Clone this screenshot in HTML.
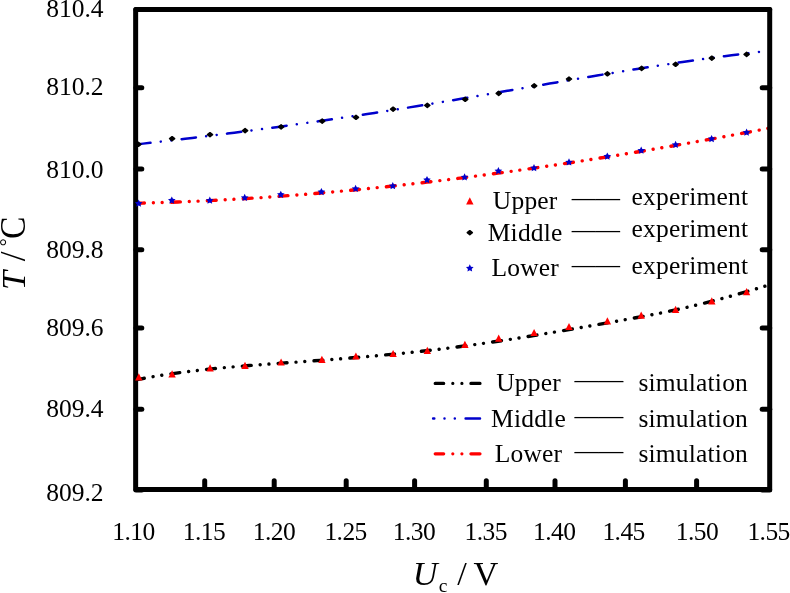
<!DOCTYPE html>
<html lang="en"><head><meta charset="utf-8"><title>T vs Uc</title>
<style>
html,body{margin:0;padding:0;background:#fff;}
body{width:790px;height:593px;overflow:hidden;}
svg{display:block;}
text{font-family:"Liberation Serif","Times New Roman",serif;fill:#000;}
.tk{font-size:25.5px;}
.lg{font-size:25.5px;letter-spacing:0.2px;}
.xk{font-size:25.5px;letter-spacing:-0.55px;}
.ti{font-size:35.5px;}
</style></head><body>
<svg width="790" height="593" viewBox="0 0 790 593">
<rect x="0" y="0" width="790" height="593" fill="#fff"/>

<g stroke="#000" stroke-width="5" stroke-linecap="round" fill="none">
<line x1="136" y1="9.5" x2="141.8" y2="9.5"/>
<line x1="769.7" y1="9.5" x2="762.2" y2="9.5"/>
<line x1="136" y1="87.85" x2="141.8" y2="87.85"/>
<line x1="769.7" y1="87.85" x2="762.2" y2="87.85"/>
<line x1="136" y1="169" x2="141.8" y2="169"/>
<line x1="769.7" y1="169" x2="762.2" y2="169"/>
<line x1="136" y1="249.7" x2="141.8" y2="249.7"/>
<line x1="769.7" y1="249.7" x2="762.2" y2="249.7"/>
<line x1="136" y1="328" x2="141.8" y2="328"/>
<line x1="769.7" y1="328" x2="762.2" y2="328"/>
<line x1="136" y1="409.3" x2="141.8" y2="409.3"/>
<line x1="769.7" y1="409.3" x2="762.2" y2="409.3"/>
<line x1="136" y1="490" x2="141.8" y2="490"/>
<line x1="769.7" y1="490" x2="762.2" y2="490"/>
<line x1="204.7" y1="489.5" x2="204.7" y2="480.7"/>
<line x1="274.2" y1="489.5" x2="274.2" y2="480.7"/>
<line x1="346.2" y1="489.5" x2="346.2" y2="480.7"/>
<line x1="414.6" y1="489.5" x2="414.6" y2="480.7"/>
<line x1="486.3" y1="489.5" x2="486.3" y2="480.7"/>
<line x1="555" y1="489.5" x2="555" y2="480.7"/>
<line x1="625.4" y1="489.5" x2="625.4" y2="480.7"/>
<line x1="696.6" y1="489.5" x2="696.6" y2="480.7"/>
</g>
<path d="M136.2,144.39 L143.2,143.62 L150.2,142.83 L157.2,142.04 L164.2,141.23 L171.2,140.42 L178.2,139.60 L185.2,138.77 L192.2,137.93 L199.2,137.09 L206.2,136.23 L213.2,135.36 L220.3,134.49 L227.3,133.61 L234.3,132.71 L241.3,131.81 L248.3,130.90 L255.3,129.98 L262.3,129.05 L269.3,128.12 L276.3,127.17 L283.3,126.21 L290.3,125.25 L297.3,124.27 L304.3,123.29 L311.3,122.30 L318.3,121.29 L325.3,120.28 L332.3,119.26 L339.3,118.23 L346.3,117.19 L353.3,116.14 L360.3,115.08 L367.3,114.01 L374.4,112.93 L381.4,111.84 L388.4,110.74 L395.4,109.64 L402.4,108.52 L409.4,107.39 L416.4,106.26 L423.4,105.11 L430.4,103.95 L437.4,102.79 L444.4,101.62 L451.4,100.44 L458.4,99.26 L465.4,98.07 L472.4,96.87 L479.4,95.68 L486.4,94.47 L493.4,93.27 L500.4,92.06 L507.4,90.85 L514.4,89.64 L521.4,88.43 L528.5,87.22 L535.5,86.01 L542.5,84.80 L549.5,83.60 L556.5,82.40 L563.5,81.20 L570.5,80.00 L577.5,78.81 L584.5,77.63 L591.5,76.45 L598.5,75.28 L605.5,74.12 L612.5,72.97 L619.5,71.82 L626.5,70.69 L633.5,69.56 L640.5,68.45 L647.5,67.34 L654.5,66.25 L661.5,65.18 L668.5,64.11 L675.5,63.06 L682.6,62.03 L689.6,61.01 L696.6,60.01 L703.6,59.02 L710.6,58.06 L717.6,57.11 L724.6,56.18 L731.6,55.27 L738.6,54.37 L745.6,53.50 L752.6,52.66 L759.6,51.83" fill="none" stroke="#0000cc" stroke-width="2.5" stroke-linecap="round" stroke-dasharray="14.4 10.3 0.01 10.6 0.01 10.4"/>
<path d="M135.5,203.28 L142.6,203.11 L149.7,202.92 L156.8,202.71 L163.9,202.48 L171.0,202.24 L178.1,201.98 L185.2,201.69 L192.4,201.39 L199.5,201.08 L206.6,200.74 L213.7,200.39 L220.8,200.02 L227.9,199.63 L235.0,199.22 L242.1,198.80 L249.2,198.36 L256.3,197.90 L263.4,197.43 L270.5,196.94 L277.6,196.43 L284.7,195.91 L291.8,195.37 L299.0,194.81 L306.1,194.24 L313.2,193.66 L320.3,193.05 L327.4,192.43 L334.5,191.80 L341.6,191.15 L348.7,190.48 L355.8,189.80 L362.9,189.11 L370.0,188.39 L377.1,187.67 L384.2,186.93 L391.3,186.17 L398.4,185.40 L405.6,184.62 L412.7,183.82 L419.8,183.01 L426.9,182.18 L434.0,181.34 L441.1,180.49 L448.2,179.62 L455.3,178.74 L462.4,177.85 L469.5,176.94 L476.6,176.02 L483.7,175.08 L490.8,174.14 L497.9,173.18 L505.1,172.21 L512.2,171.22 L519.3,170.22 L526.4,169.21 L533.5,168.19 L540.6,167.16 L547.7,166.11 L554.8,165.06 L561.9,163.99 L569.0,162.91 L576.1,161.81 L583.2,160.71 L590.3,159.60 L597.4,158.47 L604.5,157.33 L611.7,156.19 L618.8,155.03 L625.9,153.86 L633.0,152.68 L640.1,151.49 L647.2,150.29 L654.3,149.08 L661.4,147.86 L668.5,146.63 L675.6,145.40 L682.7,144.15 L689.8,142.89 L696.9,141.62 L704.0,140.34 L711.1,139.06 L718.3,137.76 L725.4,136.46 L732.5,135.15 L739.6,133.83 L746.7,132.50 L753.8,131.16 L760.9,129.81 L768.0,128.46" fill="none" stroke="#ff0000" stroke-width="3.4" stroke-linecap="round" stroke-dasharray="8.9 8.98 0.01 8.78 0.01 9.25"/>
<path d="M135.5,379.92 L142.6,378.55 L149.7,377.27 L156.8,376.06 L163.9,374.92 L171.0,373.85 L178.1,372.85 L185.2,371.91 L192.4,371.03 L199.5,370.20 L206.6,369.41 L213.7,368.68 L220.8,367.98 L227.9,367.32 L235.0,366.70 L242.1,366.10 L249.2,365.53 L256.3,364.98 L263.4,364.45 L270.5,363.93 L277.6,363.42 L284.7,362.91 L291.8,362.41 L299.0,361.90 L306.1,361.39 L313.2,360.87 L320.3,360.35 L327.4,359.81 L334.5,359.26 L341.6,358.71 L348.7,358.14 L355.8,357.55 L362.9,356.95 L370.0,356.34 L377.1,355.70 L384.2,355.05 L391.3,354.38 L398.4,353.69 L405.6,352.97 L412.7,352.23 L419.8,351.47 L426.9,350.68 L434.0,349.86 L441.1,349.02 L448.2,348.14 L455.3,347.24 L462.4,346.31 L469.5,345.35 L476.6,344.36 L483.7,343.34 L490.8,342.30 L497.9,341.24 L505.1,340.16 L512.2,339.05 L519.3,337.93 L526.4,336.79 L533.5,335.63 L540.6,334.45 L547.7,333.26 L554.8,332.06 L561.9,330.84 L569.0,329.62 L576.1,328.38 L583.2,327.14 L590.3,325.89 L597.4,324.63 L604.5,323.37 L611.7,322.11 L618.8,320.84 L625.9,319.57 L633.0,318.29 L640.1,316.98 L647.2,315.65 L654.3,314.28 L661.4,312.87 L668.5,311.40 L675.6,309.87 L682.7,308.29 L689.8,306.65 L696.9,304.96 L704.0,303.20 L711.1,301.39 L718.3,299.53 L725.4,297.62 L732.5,295.66 L739.6,293.66 L746.7,291.62 L753.8,289.54 L760.9,287.42 L768.0,285.28" fill="none" stroke="#000" stroke-width="3.4" stroke-linecap="round" stroke-dasharray="8.9 8.98 0.01 8.78 0.01 9.25"/>
<rect x="135.65" y="9.5" width="634.05" height="480" fill="none" stroke="#000" stroke-width="5" stroke-linejoin="round"/>
<defs>
<path id="dia" d="M-2.5,0 L0,-2.0 L2.5,0 L0,2.0 Z" fill="#000" stroke="#000" stroke-width="1.6" stroke-linejoin="round"/>
<polygon id="star" points="0.00,-3.65 1.18,-1.27 3.80,-0.89 1.90,0.97 2.35,3.59 0.00,2.35 -2.35,3.59 -1.90,0.97 -3.80,-0.89 -1.18,-1.27" fill="#0000cc"/>
<path id="tri" d="M0,-3.7 L3.7,3.5 L-3.7,3.5 Z" fill="#ff0000"/>
</defs>
<use href="#dia" x="138.4" y="144.3"/>
<use href="#dia" x="172.1" y="138.7"/>
<use href="#dia" x="210" y="134.7"/>
<use href="#dia" x="245.1" y="130.6"/>
<use href="#dia" x="281.1" y="126.9"/>
<use href="#dia" x="322.2" y="121.1"/>
<use href="#dia" x="356" y="117.3"/>
<use href="#dia" x="393.1" y="109.2"/>
<use href="#dia" x="427.3" y="105.4"/>
<use href="#dia" x="465.2" y="99.3"/>
<use href="#dia" x="498.7" y="93.4"/>
<use href="#dia" x="534.2" y="85.8"/>
<use href="#dia" x="569" y="79"/>
<use href="#dia" x="607.4" y="73.8"/>
<use href="#dia" x="641.6" y="68.4"/>
<use href="#dia" x="675.6" y="64.3"/>
<use href="#dia" x="711.8" y="58.2"/>
<use href="#dia" x="746.6" y="54.4"/>
<use href="#star" x="138.7" y="203.2"/>
<use href="#star" x="171.8" y="200.1"/>
<use href="#star" x="209.8" y="200.2"/>
<use href="#star" x="244.7" y="197.5"/>
<use href="#star" x="280.8" y="194.3"/>
<use href="#star" x="321.4" y="191.6"/>
<use href="#star" x="355.6" y="188.5"/>
<use href="#star" x="392.8" y="185.7"/>
<use href="#star" x="427" y="179.6"/>
<use href="#star" x="464.6" y="176.9"/>
<use href="#star" x="498.4" y="170.7"/>
<use href="#star" x="534" y="167.7"/>
<use href="#star" x="569" y="161.9"/>
<use href="#star" x="607.3" y="156.1"/>
<use href="#star" x="641.2" y="150.2"/>
<use href="#star" x="675.6" y="144.4"/>
<use href="#star" x="711.6" y="138.6"/>
<use href="#star" x="746.6" y="132.2"/>
<use href="#tri" x="138.8" y="377"/>
<use href="#tri" x="172.1" y="373.9"/>
<use href="#tri" x="210.1" y="368"/>
<use href="#tri" x="245" y="365.4"/>
<use href="#tri" x="281.1" y="362.1"/>
<use href="#tri" x="321.9" y="359.5"/>
<use href="#tri" x="355.9" y="356.1"/>
<use href="#tri" x="393.1" y="353.6"/>
<use href="#tri" x="427.3" y="350.4"/>
<use href="#tri" x="464.9" y="344.5"/>
<use href="#tri" x="498.7" y="338.3"/>
<use href="#tri" x="534.1" y="332.6"/>
<use href="#tri" x="569" y="326.6"/>
<use href="#tri" x="607.4" y="321"/>
<use href="#tri" x="641.2" y="315.2"/>
<use href="#tri" x="675.6" y="309.4"/>
<use href="#tri" x="711.8" y="301"/>
<use href="#tri" x="746.6" y="291.7"/>
<text class="tk" x="103.6" y="17.0" text-anchor="end">810.4</text>
<text class="tk" x="103.6" y="95.1" text-anchor="end">810.2</text>
<text class="tk" x="103.6" y="178.2" text-anchor="end">810.0</text>
<text class="tk" x="103.6" y="258.2" text-anchor="end">809.8</text>
<text class="tk" x="103.6" y="336.1" text-anchor="end">809.6</text>
<text class="tk" x="103.6" y="417.1" text-anchor="end">809.4</text>
<text class="tk" x="103.6" y="500.7" text-anchor="end">809.2</text>
<text class="xk" x="112.3" y="539.9">1.10</text>
<text class="xk" x="182.7" y="539.9">1.15</text>
<text class="xk" x="252.8" y="539.9">1.20</text>
<text class="xk" x="324.4" y="539.9">1.25</text>
<text class="xk" x="392.7" y="539.9">1.30</text>
<text class="xk" x="464.6" y="539.9">1.35</text>
<text class="xk" x="533.1" y="539.9">1.40</text>
<text class="xk" x="602.4" y="539.9">1.45</text>
<text class="xk" x="675.7" y="539.9">1.50</text>
<text class="xk" x="747.4" y="539.9">1.55</text>
<g transform="translate(24.9,0) rotate(-90)">
<text x="-290" y="0" font-size="34.2px" font-style="italic">T</text>
<text x="-261.2" y="0" font-size="35.5px">/</text>
<text x="-246.2" y="-11.4" font-size="20px">°</text>
<text font-size="35.5px" transform="translate(-239,0) scale(0.95,1)" x="0" y="0">C</text>
</g>
<text x="412.7" y="584.6" font-size="34.3px" font-style="italic">U</text>
<text x="438.8" y="591.7" font-size="19.5px">c</text>
<text x="457.3" y="584.6" font-size="34.3px">/</text>
<text x="473.4" y="584.6" font-size="34.3px">V</text>
<use href="#tri" x="469.8" y="201"/>
<use href="#dia" x="469.8" y="232.7"/>
<use href="#star" x="469.8" y="268"/>
<text class="lg" x="525.2" y="208.6" text-anchor="middle">Upper</text>
<text class="lg" x="571.7" y="206.2" textLength="48.4" lengthAdjust="spacingAndGlyphs">——</text>
<text class="lg" x="631.6" y="205.3">experiment</text>
<text class="lg" x="525.2" y="240.9" text-anchor="middle">Middle</text>
<text class="lg" x="571.7" y="238.1" textLength="48.4" lengthAdjust="spacingAndGlyphs">——</text>
<text class="lg" x="631.6" y="236.9">experiment</text>
<text class="lg" x="525.2" y="275.8" text-anchor="middle">Lower</text>
<text class="lg" x="571.7" y="272.6" textLength="48.4" lengthAdjust="spacingAndGlyphs">——</text>
<text class="lg" x="631.6" y="273.5">experiment</text>
<path d="M435.2,383.4 H443.7 M452.8,383.4 h0.01 M461.9,383.4 h0.01 M470.9,383.4 H480" fill="none" stroke="#000" stroke-width="3.2" stroke-linecap="round"/>
<path d="M433.1,418.6 H434.3 M444.5,418.6 h0.01 M454.8,418.6 h0.01 M465.6,418.6 H480" fill="none" stroke="#0000cc" stroke-width="2.5" stroke-linecap="round"/>
<path d="M435.2,453.8 H443.7 M452.8,453.8 h0.01 M461.9,453.8 h0.01 M470.9,453.8 H480" fill="none" stroke="#ff0000" stroke-width="3.2" stroke-linecap="round"/>
<text class="lg" x="528.5" y="391.0" text-anchor="middle">Upper</text>
<text class="lg" x="574.5" y="388.3" textLength="49" lengthAdjust="spacingAndGlyphs">——</text>
<text class="lg" x="638.4" y="391.0">simulation</text>
<text class="lg" x="528.5" y="426.6" text-anchor="middle">Middle</text>
<text class="lg" x="574.5" y="424.2" textLength="49" lengthAdjust="spacingAndGlyphs">——</text>
<text class="lg" x="638.4" y="426.6">simulation</text>
<text class="lg" x="528.5" y="461.7" text-anchor="middle">Lower</text>
<text class="lg" x="574.5" y="459.1" textLength="49" lengthAdjust="spacingAndGlyphs">——</text>
<text class="lg" x="638.4" y="461.7">simulation</text>
</svg></body></html>
